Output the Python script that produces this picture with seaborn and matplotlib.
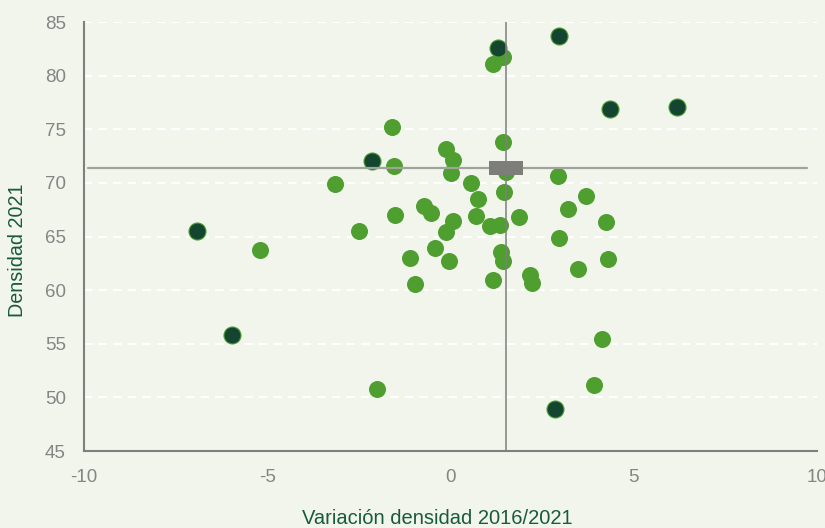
import pandas as pd
import matplotlib
matplotlib.use('Agg')
import matplotlib.pyplot as plt
import seaborn as sns

# Provinces: variation of density 2016/2021 vs density 2021
green_x = [-1.60, -1.55, -3.16, -2.49, -1.52, -5.21, -1.11, -2.01, -0.96, 1.17,
           1.43, 1.44, -0.11, 0.08, 0.01, 1.51, 2.93, 0.57, 1.47, 3.71,
           0.75, -0.73, -0.53, 3.20, 0.70, 0.07, -0.11, 4.23, 1.09, 1.36,
           1.87, 2.95, -0.42, -0.05, 1.38, 1.44, 4.30, 3.48, 1.17, 2.17,
           2.22, 4.13, 3.92]
green_y = [75.17, 71.6, 69.92, 65.53, 67.0, 63.76, 63.0, 50.8, 60.56, 81.05,
           81.7, 73.83, 73.15, 72.1, 70.9, 71.04, 70.63, 70.01, 69.17, 68.74,
           68.49, 67.87, 67.15, 67.53, 66.93, 66.44, 65.38, 66.37, 65.97, 66.06,
           66.78, 64.85, 63.89, 62.73, 63.52, 62.7, 62.89, 62.0, 60.97, 61.4,
           60.65, 55.4, 51.2]

dark_x = [1.30, 2.95, 4.34, 6.18, -2.14, -6.92, -5.97, 2.84]
dark_y = [82.6, 83.7, 76.85, 77.07, 72.03, 65.53, 55.83, 48.93]

avg_x = 1.52
avg_y = 71.4

BG = '#f2f5ec'
GREEN = '#4f9e30'
DARK = '#134530'
GRAY = '#7f7f7f'
LABEL = '#1a5a3c'


def main():
    sns.set_style('white')
    plt.rcParams['font.family'] = ['Liberation Sans', 'DejaVu Sans']
    plt.rcParams['axes.unicode_minus'] = False

    green = pd.DataFrame({'x': green_x, 'y': green_y})
    dark = pd.DataFrame({'x': dark_x, 'y': dark_y})

    fig = plt.figure(figsize=(8.25, 5.28), dpi=100, facecolor=BG)
    ax = fig.add_axes([0.1018, 0.1458, 0.8885, 0.8125])
    ax.set_facecolor(BG)

    # gridlines
    for v in range(50, 90, 5):
        ax.axhline(v, color='white', lw=1.5, ls=(0, (4, 3)), zorder=1)

    sns.scatterplot(data=green, x='x', y='y', ax=ax, color=GREEN, s=150,
                    linewidth=0, zorder=3)
    sns.scatterplot(data=dark, x='x', y='y', ax=ax, color=DARK, s=150,
                    edgecolor=GREEN, linewidth=0.8, zorder=4)

    # average lines + marker
    ax.axvline(avg_x, color=GRAY, lw=1.1, zorder=5)
    ax.axhline(avg_y, xmin=0.005, xmax=0.987, color='#a0a29c', lw=1.6, zorder=5)
    rect = [(-1, -0.41), (1, -0.41), (1, 0.41), (-1, 0.41)]
    ax.scatter([avg_x], [avg_y], marker=rect, s=600, color='#7d7e79',
               linewidth=0, zorder=6)

    ax.set_xlim(-10, 10)
    ax.set_ylim(45, 85)
    ax.set_xticks([-10, -5, 0, 5, 10])
    ax.set_yticks(range(45, 90, 5))

    for side in ['top', 'right']:
        ax.spines[side].set_visible(False)
    for side in ['left', 'bottom']:
        ax.spines[side].set_color(GRAY)
        ax.spines[side].set_linewidth(1.5)

    ax.tick_params(axis='both', direction='in', length=6, width=1.5,
                   color=GRAY, labelcolor='#858585', labelsize=13.5, pad=13)

    ax.set_xlabel('Variación densidad 2016/2021', color=LABEL, fontsize=14.5)
    ax.set_ylabel('Densidad 2021', color=LABEL, fontsize=14.2)
    ax.xaxis.set_label_coords(0.4816, -0.135)
    ax.yaxis.set_label_coords(-0.078, 0.4685)

    fig.savefig('out.png', dpi=100, facecolor=BG)


if __name__ == '__main__':
    main()
